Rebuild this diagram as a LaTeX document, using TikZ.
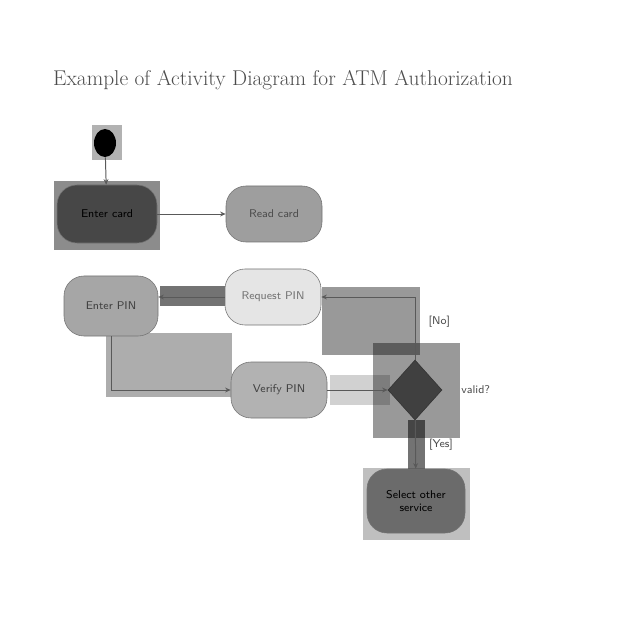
\documentclass[tikz,border=0pt]{standalone}
\usepackage{amsmath}
\usetikzlibrary{shapes.geometric,arrows.meta}

\tikzset{
  act/.style={draw=black!55, rounded corners=5mm, minimum width=24mm, minimum height=14mm, inner sep=1pt, align=center, font=\sffamily\footnotesize},
  flow/.style={draw=black!65, line width=0.7pt, -{Stealth[length=1.4mm,width=1.2mm]}},
  hilite/.style={fill=black, fill opacity=#1},
  guard/.style={font=\sffamily\footnotesize, text=black!70},
}

\begin{document}
\begin{tikzpicture}[x=0.25mm, y=-0.25mm]
        \useasboundingbox (0,0) rectangle (640,640);

        % highlighted regions
        \fill[hilite=0.3] (92,125) rectangle (122,160);
        \fill[hilite=0.45] (54,181) rectangle (160,250);
        \fill[hilite=0.55] (160,286) rectangle (225,306);
        \fill[hilite=0.4] (322,287) rectangle (420,355);
        \fill[hilite=0.32] (106,333) rectangle (232,397);
        \fill[hilite=0.4] (373,343) rectangle (460,438);
        \fill[hilite=0.18] (330,375) rectangle (390,405);
        \fill[hilite=0.55] (408,420) rectangle (425,475);
        \fill[hilite=0.25] (363,468) rectangle (470,540);

        \node[font=\fontsize{15.2}{18}\selectfont, text=black!70] at (283,80) (title) {Example of Activity Diagram for ATM Authorization};

        \node[ellipse, fill=black, minimum width=5.5mm, minimum height=7mm, inner sep=0pt] at (105,143) (start) {};
        \node[act, fill=black!72, minimum width=25mm, minimum height=14.5mm] at (107,214) (card) {Enter card};
        \node[act, fill=black!38, text=black!70] at (274,214) (read) {Read card};
        \node[act, fill=black!35, text=black!75, minimum width=23.5mm, minimum height=15mm] at (111,306) (pin) {Enter PIN};
        \node[act, fill=black!10, text=black!55] at (273,297) (req) {Request PIN};
        \node[act, fill=black!30, text=black!75] at (279,390) (ver) {Verify PIN};
        \node[diamond, fill=black!75, draw=black!80, minimum width=13.5mm, minimum height=15mm, inner sep=0pt] at (415,390) (valid) {};
        \node[act, fill=black!58, minimum width=24.5mm, minimum height=16mm] at (416,501) (sel) {Select other\\service};

        \node[guard, anchor=west, xshift=10pt] at (valid.east) (q) {valid?};

        \draw[flow] (start) -- (card);
        \draw[flow] (card) -- (read);
        \draw[flow] (req.west) -- (req.west -| pin.east);
        \draw[flow] (valid.north) |- (req.east) node [pos=0.3, right, guard, xshift=6pt] (no) {[No]};
        \draw[flow] (pin.south) |- (ver.west);
        \draw[flow] (ver) -- (valid);
        \draw[flow] (valid) -- (sel) node [midway, right, guard, xshift=6pt] (yes) {[Yes]};

    \end{tikzpicture}
\end{document}
